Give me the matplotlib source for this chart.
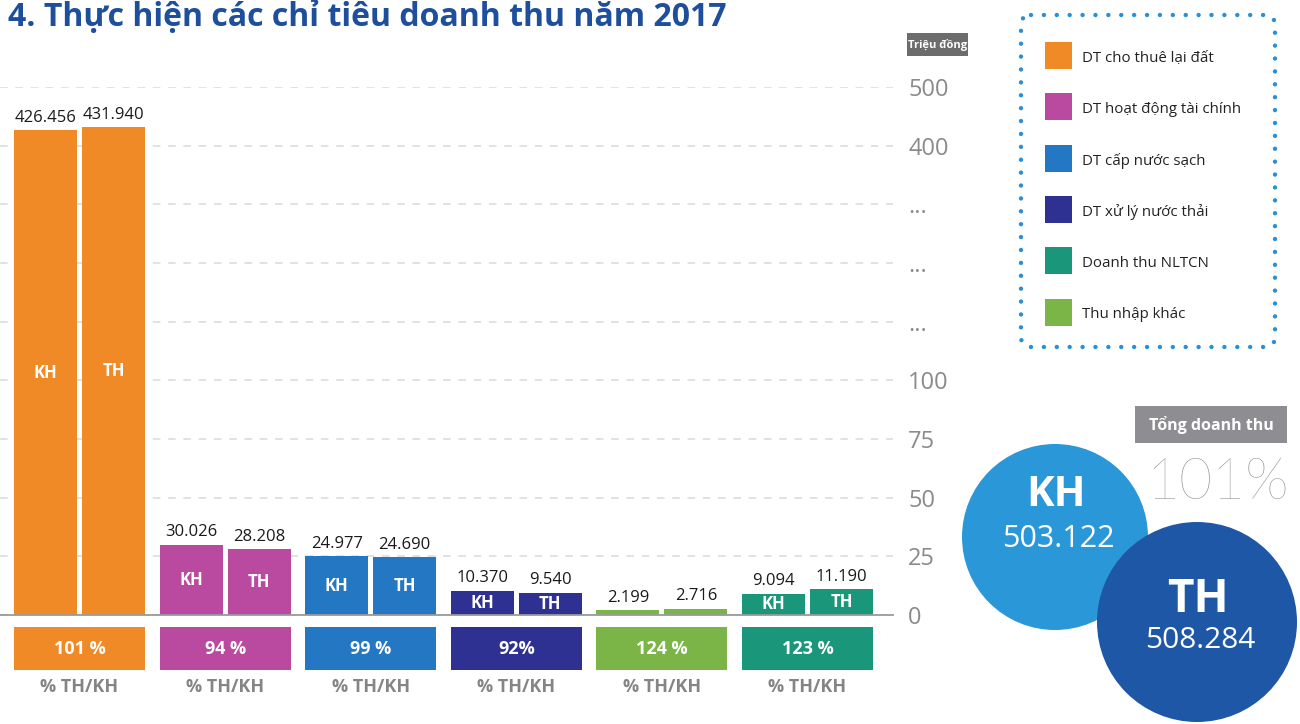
import numpy as np
import matplotlib
matplotlib.use("Agg")
import matplotlib.pyplot as plt
from matplotlib.patches import Rectangle, Circle, FancyBboxPatch

# ---------------- data ----------------
title = "4. Thực hiện các chỉ tiêu doanh thu năm 2017"
unit_label = "Triệu đồng"
groups = ["DT cho thuê lại đất", "DT hoạt động tài chính", "DT cấp nước sạch",
          "DT xử lý nước thải", "Thu nhập khác", "Doanh thu NLTCN"]
kh_values = [426.456, 30.026, 24.977, 10.370, 2.199, 9.094]
th_values = [431.940, 28.208, 24.690, 9.540, 2.716, 11.190]
pct_labels = ["101 %", "94 %", "99 %", "92%", "124 %", "123 %"]
pct_caption = "% TH/KH"
show_inner = [True, True, True, True, False, True]
group_colors = ["#F08A26", "#B94A9F", "#2477C2", "#2E3192", "#7BB547", "#1A967A"]

legend_names = ["DT cho thuê lại đất", "DT hoạt động tài chính", "DT cấp nước sạch",
                "DT xử lý nước thải", "Doanh thu NLTCN", "Thu nhập khác"]
legend_colors = ["#F08A26", "#B94A9F", "#2477C2", "#2E3192", "#1A967A", "#7BB547"]

ytick_values = [0, 25, 50, 75, 100, 175, 250, 325, 400, 500]
ytick_labels = ["0", "25", "50", "75", "100", "...", "...", "...", "400", "500"]
break_values = [0, 100, 400, 500]
break_positions = [0, 4, 8, 9]

total_title = "Tổng doanh thu"
total_kh = 503.122
total_th = 508.284
total_pct = "101%"

# ---------------- fonts ----------------
SANS = ["Open Sans", "DejaVu Sans"]
plt.rcParams["font.family"] = SANS

# ---------------- broken (piecewise) scale ----------------
bv = np.array(break_values, float)
bp = np.array(break_positions, float)


def fwd(v):
    v = np.asarray(v, float)
    out = np.interp(v, bv, bp)
    out = np.where(v < bv[0], (v - bv[0]) * (bp[1] - bp[0]) / (bv[1] - bv[0]), out)
    out = np.where(v > bv[-1], bp[-1] + (v - bv[-1]) * (bp[-1] - bp[-2]) / (bv[-1] - bv[-2]), out)
    return out


def inv(p):
    p = np.asarray(p, float)
    out = np.interp(p, bp, bv)
    out = np.where(p < bp[0], p * (bv[1] - bv[0]) / (bp[1] - bp[0]), out)
    out = np.where(p > bp[-1], bv[-1] + (p - bp[-1]) * (bv[-1] - bv[-2]) / (bp[-1] - bp[-2]), out)
    return out


W, H = 1300, 724
fig = plt.figure(figsize=(W / 100, H / 100), dpi=100)
fig.patch.set_facecolor("white")

pitch = 145.6
x0px = 79.5
axes_right_px = 893
xlim = (-x0px / pitch, (axes_right_px - x0px) / pitch)
off = 34 / pitch
bw = 63 / pitch

# main bar axes: value 0 at y=615 px, 500 at y=87 px
ax = fig.add_axes([0, (H - 615) / H, axes_right_px / W, (615 - 87) / H])
ax.set_yscale("function", functions=(fwd, inv))
ax.set_ylim(0, 500)
ax.set_xlim(*xlim)
x = np.arange(len(groups))

ax.bar(x - off, kh_values, width=bw, color=group_colors, zorder=3)
ax.bar(x + off, th_values, width=bw, color=group_colors, zorder=3)

for i in range(len(groups)):
    for xx, v, tag in ((x[i] - off, kh_values[i], "KH"), (x[i] + off, th_values[i], "TH")):
        ax.annotate(f"{v:.3f}", (xx, v), xytext=(0, 3), textcoords="offset points",
                    ha="center", va="bottom", fontsize=12, color="#1a1a1a", zorder=5)
        if show_inner[i]:
            ymid = float(inv(fwd(v) / 2))
            ax.text(xx, ymid, tag, ha="center", va="center", fontsize=12,
                    color="white", fontweight="bold", zorder=5)

ax.set_yticks(ytick_values)
ax.set_yticklabels(ytick_labels)
ax.yaxis.tick_right()
ax.tick_params(axis="y", length=0, pad=11, labelsize=17, labelcolor="#8a8a8a")
ax.set_xticks([])
ax.yaxis.grid(True, linestyle=(0, (5, 5)), color="#dadada", linewidth=1.1, zorder=0)
for s in ax.spines.values():
    s.set_visible(False)
ax.axhline(0, color="#9a9a9a", linewidth=1.3, zorder=4, clip_on=False)
ax.set_facecolor("none")

# percent boxes below
axb = fig.add_axes([0, 0, axes_right_px / W, (724 - 615) / H])
axb.set_xlim(*xlim)
axb.set_ylim(-54 / 43, 1 + 12 / 43)
axb.bar(x, 1, bottom=0, width=2 * off + bw, color=group_colors)
for i in range(len(groups)):
    axb.text(x[i], 0.5, pct_labels[i], ha="center", va="center", fontsize=13,
             color="white", fontweight="bold")
    axb.text(x[i], -17 / 43, pct_caption, ha="center", va="center", fontsize=13,
             color="#858585", fontweight="bold")
axb.axis("off")

# overlay in pixel coordinates for decorations
ov = fig.add_axes([0, 0, 1, 1], zorder=5)
ov.set_xlim(0, W)
ov.set_ylim(H, 0)
ov.axis("off")
ov.patch.set_alpha(0)

ov.text(8, 17, title, ha="left", va="center", fontsize=23, fontweight="bold",
        color="#1E4F9C")

ov.add_patch(Rectangle((907, 33), 61, 23, color="#6c6c6c", lw=0))
ov.text(937.5, 44.5, unit_label, ha="center", va="center", fontsize=8,
        color="white", fontweight="bold")

# legend
frame = FancyBboxPatch((1021, 15), 254, 332, boxstyle="round,pad=0,rounding_size=10",
                       fill=False, edgecolor="#2B8FD6", linewidth=3.2,
                       linestyle=(0, (0.001, 2.9)))
frame.set_capstyle("round")
ov.add_patch(frame)
for k, (name, col) in enumerate(zip(legend_names, legend_colors)):
    yt = 42 + 51.3 * k
    ov.add_patch(Rectangle((1045, yt), 27, 27, color=col, lw=0))
    ov.text(1082, yt + 16, name, ha="left", va="center", fontsize=10.8, color="#222222")

# totals
ov.add_patch(Rectangle((1135, 406), 152, 37, color="#8e8e92", lw=0))
ov.text(1211, 424.5, total_title, ha="center", va="center", fontsize=11.5,
        color="white", fontweight="bold")
ov.text(1218, 483, total_pct, ha="center", va="center", fontsize=41,
        color="#8f8f8f", family=["Lato", "Open Sans"], fontweight="light")

ov.add_patch(Circle((1055, 537), 93, color="#2A97D8", lw=0))
ov.add_patch(Circle((1197, 622), 100, color="#1F57A7", lw=0))
ov.text(1056, 496, "KH", ha="center", va="center", fontsize=30, color="white",
        fontweight="bold")
ov.text(1058, 539, f"{total_kh:.3f}", ha="center", va="center", fontsize=22,
        color="white")
ov.text(1198, 600, "TH", ha="center", va="center", fontsize=33, color="white",
        fontweight="bold")
ov.text(1200, 640, f"{total_th:.3f}", ha="center", va="center", fontsize=21.5,
        color="white")

fig.savefig("out.png", dpi=100, facecolor="white")
